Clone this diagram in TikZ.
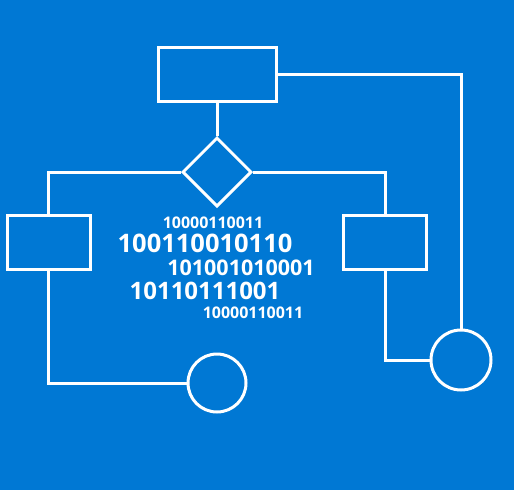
\documentclass[tikz,border=0pt]{standalone}
\usepackage{fontspec}
\setmainfont{Open Sans}
\usetikzlibrary{positioning}
\usetikzlibrary{shapes.geometric}
\definecolor{bgblue}{RGB}{0,120,212}

\begin{document}
\begin{tikzpicture}[x=1pt,y=-1pt,line width=3pt,white]
			\tikzstyle{box}=[draw,rectangle,minimum height=54pt,inner sep=0pt]
			\tikzstyle{decide}=[draw,diamond,minimum width=69pt,minimum height=69pt,inner sep=0pt]
			\tikzstyle{stop}=[draw,circle,inner sep=0pt]
			\tikzstyle{bits}=[inner sep=0pt,text=white]
			
			\fill[bgblue] (0,0) rectangle (514,490);
			\useasboundingbox (0,0) rectangle (514,490);
			
			\node[box,minimum width=118pt]  (top)   at (217,74.5)  {};
			\node[decide]                   (dec)   at (217,172)   {};
			\node[box,minimum width=83pt]   (lbox)  at (48.5,242)  {};
			\node[box,minimum width=83pt]   (rbox)  at (385,242.5) {};
			\node[stop,minimum size=58pt]   (lcirc) at (217,383)   {};
			\node[stop,minimum size=60pt]   (rcirc) at (461,360)   {};
			
			\node[bits,font=\fontsize{16}{16}\bfseries]     (b1) at (213,223) {10000110011};
			\node[bits,font=\fontsize{25.5}{25}\bfseries]   (b2) at (205,243) {100110010110};
			\node[bits,font=\fontsize{21.5}{21}\bfseries]   (b3) at (241,268) {101001010001};
			\node[bits,font=\fontsize{24}{24}\bfseries]     (b4) at (205,291) {10110111001};
			\node[bits,font=\fontsize{16}{16}\bfseries]     (b5) at (253,313) {10000110011};
			
			\draw (top.south) -- (dec.north);
			\draw (dec.west) -| (lbox.north);
			\draw (dec.east) -| (rbox.north);
			\draw (lbox.south) |- (lcirc.west);
			\draw (rbox.south) |- (rcirc.west);
			\draw (top.east) -| (rcirc.north);
			
\end{tikzpicture}
\end{document}
